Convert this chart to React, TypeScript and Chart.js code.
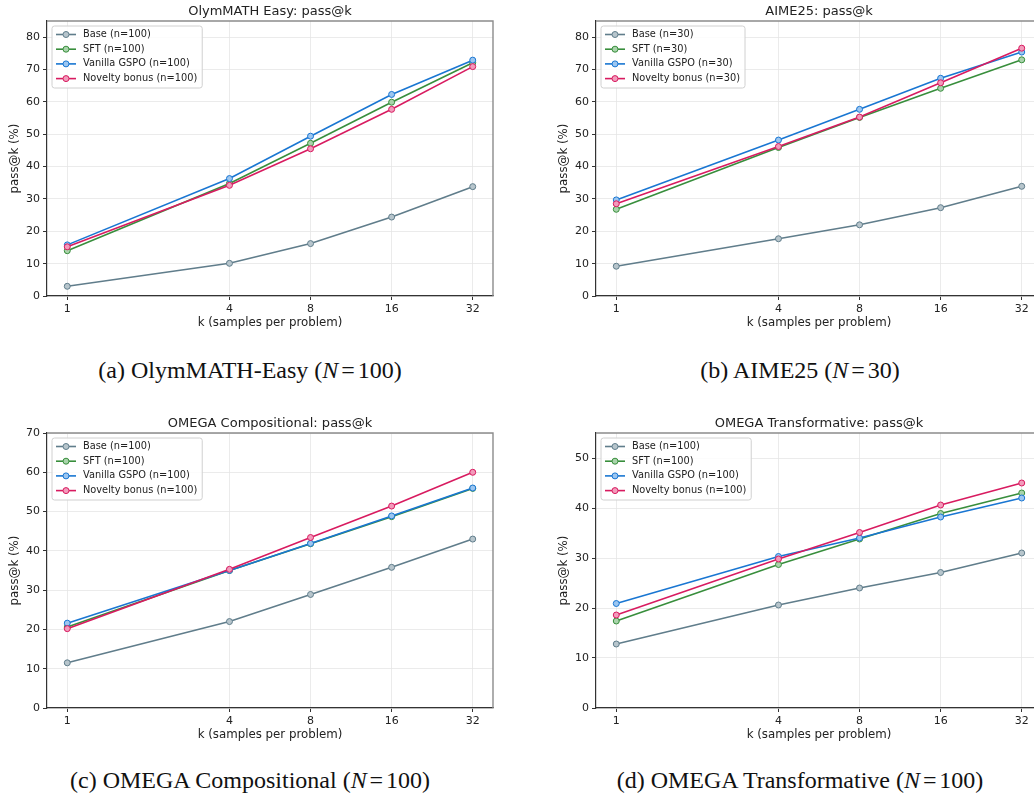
import React, { useEffect, useRef } from "react";
import { Chart, registerables } from "chart.js";

Chart.register(...registerables);

// ---- data ----
const K_VALUES = [1, 4, 8, 16, 32];
const SERIES_NAMES = ["Base", "SFT", "Vanilla GSPO", "Novelty bonus"];
const LINE_COLORS = ["#607D8B", "#388E3C", "#1976D2", "#D81B60"];
const FACE_COLORS = ["#B7C5CC", "#A9D3AB", "#9CC6F0", "#F29BBB"];
const Y_TICKS_85 = [0, 10, 20, 30, 40, 50, 60, 70, 80];
const Y_TICKS_70 = [0, 10, 20, 30, 40, 50, 60, 70];
const Y_TICKS_55 = [0, 10, 20, 30, 40, 50];

const olymBase = [3.0, 10.1, 16.2, 24.4, 33.8];
const olymSft = [14.0, 34.8, 47.2, 59.9, 72.1];
const olymGspo = [15.8, 36.3, 49.4, 62.3, 72.9];
const olymNovelty = [15.2, 34.2, 45.5, 57.7, 70.9];

const aimeBase = [9.2, 17.7, 22.0, 27.3, 33.9];
const aimeSft = [26.8, 45.9, 55.2, 64.2, 73.0];
const aimeGspo = [29.7, 48.2, 57.7, 67.3, 75.4];
const aimeNovelty = [28.5, 46.2, 55.3, 65.9, 76.6];

const compBase = [11.5, 22.0, 28.9, 35.8, 43.0];
const compSft = [20.6, 35.0, 41.8, 48.7, 55.9];
const compGspo = [21.6, 35.0, 41.9, 48.9, 56.0];
const compNovelty = [20.2, 35.3, 43.4, 51.4, 60.0];

const transBase = [12.8, 20.6, 24.0, 27.1, 31.0];
const transSft = [17.4, 28.7, 33.8, 38.9, 43.0];
const transGspo = [20.9, 30.3, 34.0, 38.2, 42.0];
const transNovelty = [18.6, 29.8, 35.1, 40.6, 45.0];

type PanelSpec = {
  title: string;
  n: number;
  yMax: number;
  yTicks: number[];
  series: number[][];
  left: number;
  top: number;
};

const PANELS: PanelSpec[] = [
  { title: "OlymMATH Easy: pass@k", n: 100, yMax: 85, yTicks: Y_TICKS_85, series: [olymBase, olymSft, olymGspo, olymNovelty], left: 0, top: 0 },
  { title: "AIME25: pass@k", n: 30, yMax: 85, yTicks: Y_TICKS_85, series: [aimeBase, aimeSft, aimeGspo, aimeNovelty], left: 549, top: 0 },
  { title: "OMEGA Compositional: pass@k", n: 100, yMax: 70, yTicks: Y_TICKS_70, series: [compBase, compSft, compGspo, compNovelty], left: 0, top: 412 },
  { title: "OMEGA Transformative: pass@k", n: 100, yMax: 55, yTicks: Y_TICKS_55, series: [transBase, transSft, transGspo, transNovelty], left: 549, top: 412 },
];

const CAPTIONS = [
  { pre: "(a) OlymMATH-Easy (", n: "100", cx: 250, cy: 370 },
  { pre: "(b) AIME25 (", n: "30", cx: 800, cy: 370 },
  { pre: "(c) OMEGA Compositional (", n: "100", cx: 250, cy: 780 },
  { pre: "(d) OMEGA Transformative (", n: "100", cx: 800, cy: 780 },
];

const FONT = "'DejaVu Sans', sans-serif";
const TEXT_COLOR = "#222222";
const CANVAS_W = 517;
const CANVAS_H = 340;

const decorPlugin = {
  id: "decor",
  afterDraw(chart: any, _args: any, opts: any) {
    const ctx: CanvasRenderingContext2D = chart.ctx;
    const ca = chart.chartArea;
    ctx.save();
    // top/right spines
    ctx.strokeStyle = "#8c8c8c";
    ctx.lineWidth = 1.4;
    ctx.beginPath();
    ctx.moveTo(ca.left, ca.top);
    ctx.lineTo(ca.right, ca.top);
    ctx.lineTo(ca.right, ca.bottom);
    ctx.stroke();

    // title
    ctx.fillStyle = TEXT_COLOR;
    ctx.font = `13px ${FONT}`;
    ctx.textAlign = "center";
    ctx.textBaseline = "alphabetic";
    ctx.fillText(opts.text, (ca.left + ca.right) / 2, ca.top - 6);

    // legend
    const ds = chart.data.datasets;
    ctx.font = `9.8px ${FONT}`;
    const tw = Math.max(...ds.map((d: any) => ctx.measureText(d.label).width));
    const bx = ca.left + 5;
    const by = ca.top + 5;
    const bw = tw + 31 + 5;
    const bh = 62;
    ctx.beginPath();
    ctx.roundRect(bx, by, bw, bh, 2.5);
    ctx.fillStyle = "rgba(255,255,255,0.85)";
    ctx.fill();
    ctx.strokeStyle = "#d0d0d0";
    ctx.lineWidth = 1;
    ctx.stroke();
    ds.forEach((d: any, i: number) => {
      const y = by + 8.5 + i * 14.7;
      ctx.strokeStyle = d.borderColor;
      ctx.lineWidth = 1.6;
      ctx.beginPath();
      ctx.moveTo(bx + 4, y);
      ctx.lineTo(bx + 24, y);
      ctx.stroke();
      ctx.beginPath();
      ctx.arc(bx + 14, y, 3, 0, Math.PI * 2);
      ctx.fillStyle = d.pointBackgroundColor;
      ctx.fill();
      ctx.lineWidth = 1;
      ctx.stroke();
      ctx.fillStyle = TEXT_COLOR;
      ctx.textAlign = "left";
      ctx.textBaseline = "middle";
      ctx.fillText(d.label, bx + 31, y);
    });
    ctx.restore();
  },
};

function Panel({ spec }: { spec: PanelSpec }) {
  const ref = useRef<HTMLCanvasElement>(null);
  useEffect(() => {
    const chart = new Chart(ref.current!, {
      type: "line",
      data: {
        datasets: spec.series.map((vals, i) => ({
          label: `${SERIES_NAMES[i]} (n=${spec.n})`,
          data: K_VALUES.map((k, j) => ({ x: k, y: vals[j] })),
          borderColor: LINE_COLORS[i],
          backgroundColor: FACE_COLORS[i],
          pointBackgroundColor: FACE_COLORS[i],
          pointBorderColor: LINE_COLORS[i],
          pointRadius: 3,
          pointBorderWidth: 1,
          borderWidth: 1.6,
          tension: 0,
          fill: false,
          order: 3 - i,
        })),
      },
      options: {
        responsive: false,
        animation: false,
        devicePixelRatio: 1,
        layout: { padding: { top: 21, right: 24, left: 0, bottom: 0 } },
        plugins: {
          legend: { display: false },
          tooltip: { enabled: false },
          decor: { text: spec.title },
        } as any,
        scales: {
          x: {
            type: "logarithmic",
            min: Math.pow(2, -0.25),
            max: Math.pow(2, 5.25),
            afterBuildTicks: (s: any) => {
              s.ticks = K_VALUES.map((v) => ({ value: v }));
            },
            afterFit: (s: any) => {
              s.height = 44;
            },
            ticks: {
              autoSkip: false,
              maxRotation: 0,
              padding: 3,
              color: TEXT_COLOR,
              font: { family: FONT, size: 11 },
              callback: (v: any) => String(v),
            },
            grid: { color: "#e6e6e6", lineWidth: 0.8, tickColor: "#333", tickLength: 4, tickWidth: 1 },
            border: { color: "#333", width: 1.2 },
            title: {
              display: true,
              text: "k (samples per problem)",
              color: TEXT_COLOR,
              font: { family: FONT, size: 11.8 },
              padding: { top: 0, bottom: 10 },
            },
          },
          y: {
            type: "linear",
            min: 0,
            max: spec.yMax,
            afterBuildTicks: (s: any) => {
              s.ticks = spec.yTicks.map((v) => ({ value: v }));
            },
            afterFit: (s: any) => {
              s.width = 47;
            },
            ticks: {
              padding: 3,
              color: TEXT_COLOR,
              font: { family: FONT, size: 11 },
            },
            grid: { color: "#e6e6e6", lineWidth: 0.8, tickColor: "#333", tickLength: 4, tickWidth: 1 },
            border: { color: "#333", width: 1.2 },
            title: {
              display: true,
              text: "pass@k (%)",
              color: TEXT_COLOR,
              font: { family: FONT, size: 11.8 },
              padding: { top: 8, bottom: 0 },
            },
          },
        },
      } as any,
      plugins: [decorPlugin],
    });
    return () => chart.destroy();
  }, []);
  return (
    <canvas
      ref={ref}
      width={CANVAS_W}
      height={CANVAS_H}
      style={{ position: "absolute", left: spec.left, top: spec.top, width: CANVAS_W, height: CANVAS_H }}
    />
  );
}

export default function App() {
  return (
    <div
      style={{
        position: "absolute",
        left: 0,
        top: 0,
        width: 1034,
        height: 797,
        overflow: "hidden",
        background: "#fff",
      }}
    >
      {PANELS.map((p, i) => (
        <Panel key={i} spec={p} />
      ))}
      {CAPTIONS.map((c, i) => (
        <div
          key={i}
          style={{
            position: "absolute",
            left: c.cx - 250,
            width: 500,
            top: c.cy - 13,
            height: 26,
            lineHeight: "26px",
            textAlign: "center",
            fontFamily: "'Liberation Serif', 'Times New Roman', serif",
            fontSize: 24,
            color: "#111",
            whiteSpace: "nowrap",
          }}
        >
          {c.pre}
          <i>N</i>
          <span style={{ margin: "0 0.12em" }}>=</span>
          {c.n})
        </div>
      ))}
    </div>
  );
}
